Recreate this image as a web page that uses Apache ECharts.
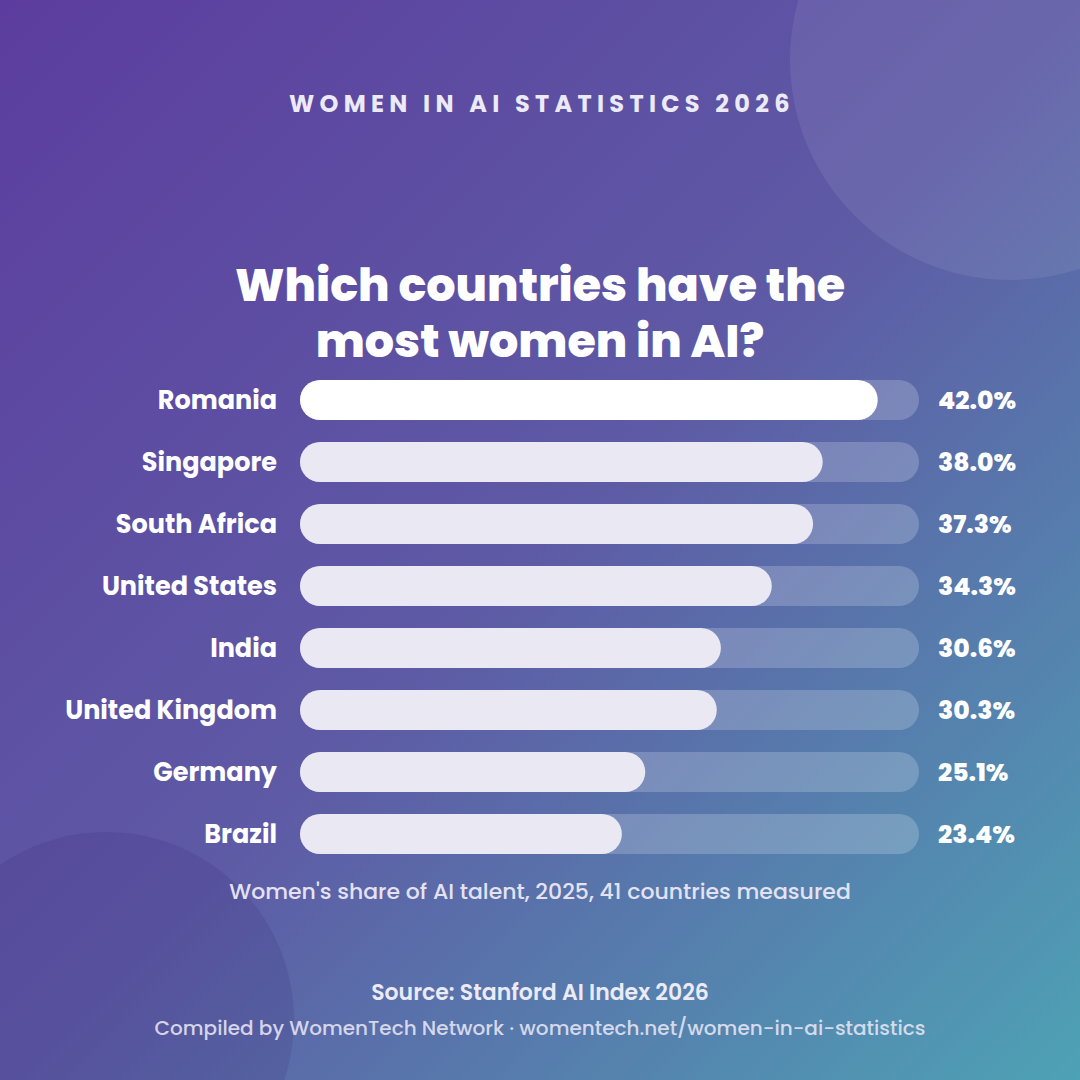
<!DOCTYPE html>
<html>
<head>
<meta charset="utf-8">
<script src="https://cdn.jsdelivr.net/npm/echarts@6/dist/echarts.min.js"></script>
<style>
html,body{margin:0;padding:0;width:1080px;height:1080px;overflow:hidden;}
#c{width:1080px;height:1080px;}
text[style*="KickerFace"]{letter-spacing:5.3px;}
</style>
</head>
<body>
<div id="c"></div>
<script>
const countries = ['Romania','Singapore','South Africa','United States','India','United Kingdom','Germany','Brazil'];
const shares = [42.0, 38.0, 37.3, 34.3, 30.6, 30.3, 25.1, 23.4];
const valueLabels = ['42.0%','38.0%','37.3%','34.3%','30.6%','30.3%','25.1%','23.4%'];
const axisMax = 45;

const FONT = 'Poppins, Inter, "Noto Sans", sans-serif';
const chart = echarts.init(document.getElementById('c'), null, {renderer:'svg', width:1080, height:1080});

chart.setOption({
  animation:false,
  graphic:[
    {type:'rect', z:-20, silent:true, shape:{x:0,y:0,width:1080,height:1080},
      style:{fill:new echarts.graphic.LinearGradient(0,0,1,1,[
        {offset:0,color:'#5C3D9F'},
        {offset:0.5,color:'#5E5AA5'},
        {offset:1,color:'#4EA2B5'}])}},
    {type:'circle', z:-19, silent:true, shape:{cx:1010,cy:60,r:220}, style:{fill:'rgba(255,255,255,0.08)'}},
    {type:'circle', z:-19, silent:true, shape:{cx:106,cy:1020,r:188}, style:{fill:'rgba(40,20,100,0.12)'}},
    {type:'text', z:5, x:289, y:103, style:{text:'WOMEN IN AI STATISTICS 2026', fill:'#ECEAF7', font:'bold 24px Poppins, KickerFace, sans-serif', textAlign:'left', textVerticalAlign:'middle'}},
    {type:'text', z:5, x:540, y:313, style:{text:'Which countries have the\nmost women in AI?', fill:'#FFFFFF', font:'800 46px '+FONT, lineHeight:56, textAlign:'center', textVerticalAlign:'middle'}},
    {type:'text', z:5, x:540, y:891, style:{text:"Women's share of AI talent, 2025, 41 countries measured", fill:'#E4E2F2', font:'500 22px '+FONT, textAlign:'center', textVerticalAlign:'middle'}},
    {type:'text', z:5, x:540, y:992, style:{text:'Source: Stanford AI Index 2026', fill:'#EBEAF6', font:'600 22px '+FONT, textAlign:'center', textVerticalAlign:'middle'}},
    {type:'text', z:5, x:540, y:1028, style:{text:'Compiled by WomenTech Network \u00B7 womentech.net/women-in-ai-statistics', fill:'rgba(232,230,245,0.88)', font:'500 20px '+FONT, textAlign:'center', textVerticalAlign:'middle'}}
  ],
  grid:{left:300, right:161, top:369, bottom:215, containLabel:false},
  xAxis:{type:'value', min:0, max:axisMax, show:false},
  yAxis:[
    {type:'category', data:countries, inverse:true, position:'left',
      axisLine:{show:false}, axisTick:{show:false}, splitLine:{show:false},
      axisLabel:{color:'#FFFFFF', fontSize:25.5, fontWeight:'bold', fontFamily:FONT, margin:23, align:'right'}},
    {type:'category', data:valueLabels, inverse:true, position:'right',
      axisLine:{show:false}, axisTick:{show:false}, splitLine:{show:false},
      axisLabel:{color:'#FFFFFF', fontSize:25, fontWeight:800, fontFamily:FONT, margin:19, align:'left'}}
  ],
  series:[{
    type:'bar', yAxisIndex:0, barWidth:40,
    data:shares.map((v,i)=>({value:v, itemStyle:{color: i===0 ? '#FFFFFF' : '#E9E8F3'}})),
    itemStyle:{borderRadius:20},
    showBackground:true,
    backgroundStyle:{color:'rgba(255,255,255,0.2)', borderRadius:20},
    label:{show:false}
  }]
});
</script>
</body>
</html>
